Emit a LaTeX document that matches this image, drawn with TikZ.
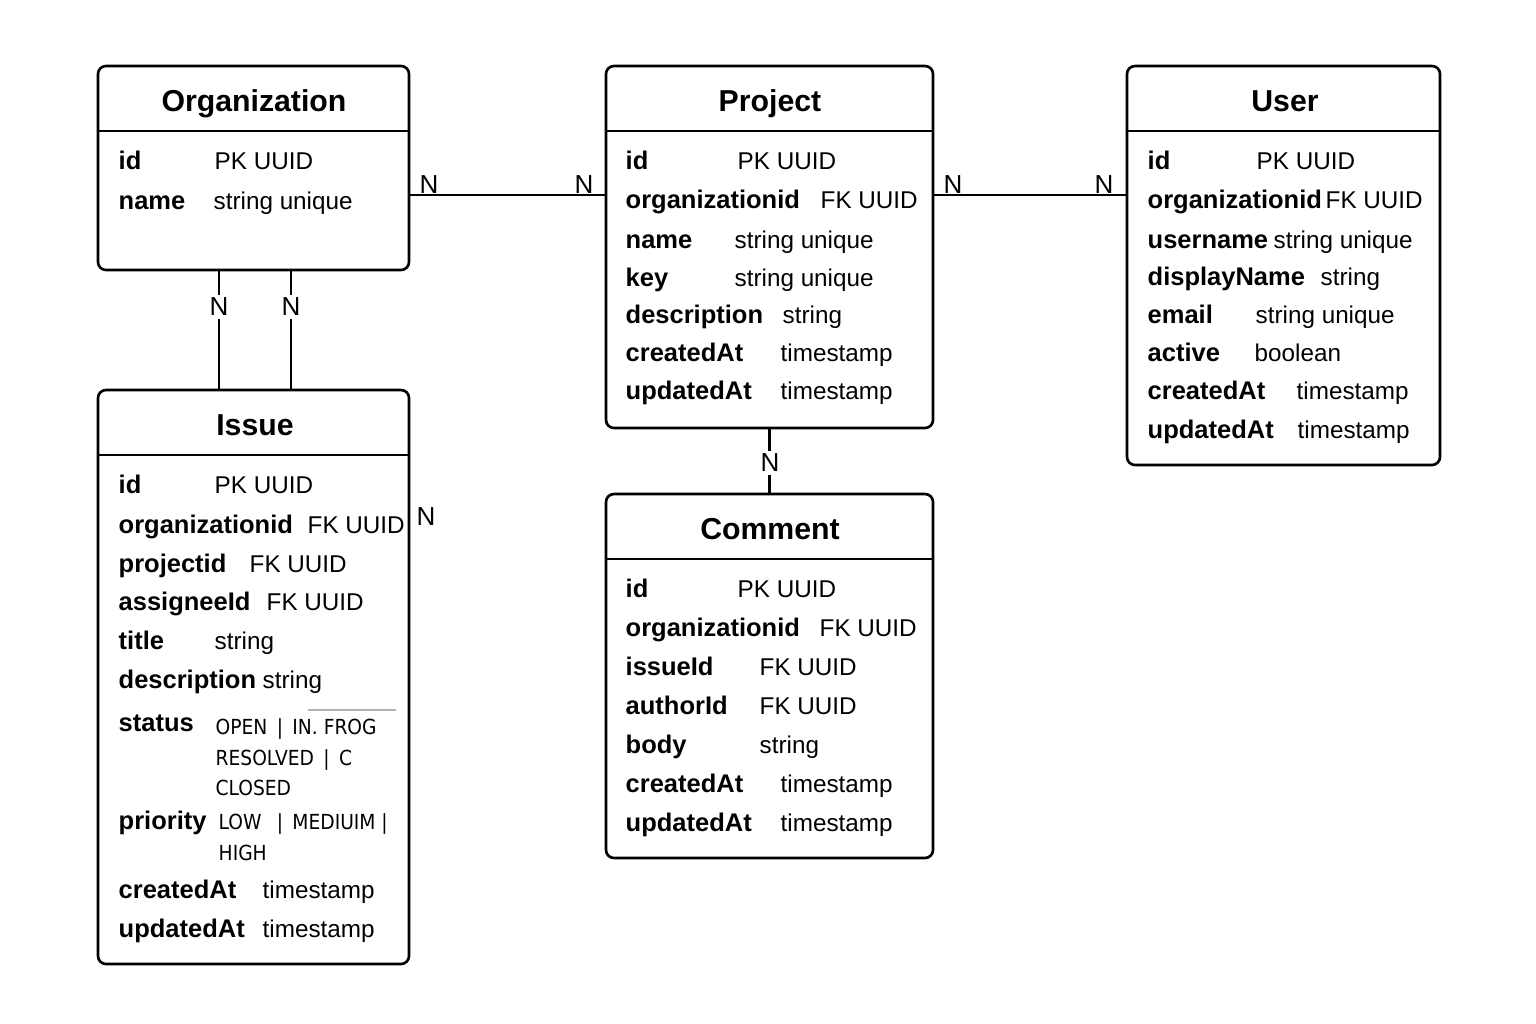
\documentclass[tikz,border=0pt]{standalone}
\usepackage{fontspec}
\setmainfont{Liberation Sans}
\newfontfamily\condfont{DejaVu Sans Condensed}
\usetikzlibrary{fit}

\tikzset{
  entity/.style={draw, line width=0.75pt, rounded corners=0.08cm, inner sep=0pt},
  title/.style={anchor=base, font=\fontsize{8.6}{10}\selectfont\bfseries},
  fname/.style={anchor=base west, inner sep=0pt, font=\fontsize{7.25}{9}\selectfont\bfseries},
  ftype/.style={anchor=base west, inner sep=0pt, font=\fontsize{6.9}{9}\selectfont},
  enumval/.style={anchor=base west, inner sep=0pt, font=\fontsize{5.9}{8}\selectfont\condfont},
  card/.style={font=\fontsize{7.4}{9}\selectfont, inner sep=1pt},
  rel/.style={line width=0.6pt}
}

\begin{document}
\begin{tikzpicture}[x=0.01cm, y=-0.01cm]
\useasboundingbox[fill=white] (0,0) rectangle (1536,1024);

% entities
\node[entity, fit={(98,66) (409,270)}] (org) {};
\node[entity, fit={(606,66) (933,428)}] (proj) {};
\node[entity, fit={(1127,66) (1440,465)}] (user) {};
\node[entity, fit={(98,390) (409,964)}] (issue) {};
\node[entity, fit={(606,494) (933,858)}] (comment) {};

% header lines
\draw[line width=0.75pt] (org.west |- 0,131) -- (org.east |- 0,131);
\draw[line width=0.75pt] (proj.west |- 0,131) -- (proj.east |- 0,131);
\draw[line width=0.75pt] (user.west |- 0,131) -- (user.east |- 0,131);
\draw[line width=0.75pt] (issue.west |- 0,455) -- (issue.east |- 0,455);
\draw[line width=0.75pt] (comment.west |- 0,559) -- (comment.east |- 0,559);

% titles
\node[title] (org-title) at (254,111) {Organization};
\node[title] (proj-title) at (770,111) {Project};
\node[title] (user-title) at (1285,111) {User};
\node[title] (issue-title) at (255,435) {Issue};
\node[title] (comment-title) at (770,539) {Comment};

% fields
\foreach \n/\y/\tx/\t in {id/161/214/PK UUID, name/201/213/string unique}{
  \node[fname] (org-\n) at (118,\y+8) {\n};
  \node[ftype] (org-\n-t) at (\tx,\y+8) {\t};
}
\foreach \n/\y/\tx/\t in {id/161/737/PK UUID, organizationid/200/820/FK UUID,
    name/240/734/string unique, key/278/734/string unique, description/315/782/string,
    createdAt/353/780/timestamp, updatedAt/391/780/timestamp}{
  \node[fname] (proj-\n) at (625,\y+8) {\n};
  \node[ftype] (proj-\n-t) at (\tx,\y+8) {\t};
}
\foreach \n/\y/\tx/\t in {id/161/1256/PK UUID, organizationid/200/1325/FK UUID,
    username/240/1273/string unique, displayName/277/1320/string, email/315/1255/string unique,
    active/353/1254/boolean, createdAt/391/1296/timestamp, updatedAt/430/1297/timestamp}{
  \node[fname] (user-\n) at (1147,\y+8) {\n};
  \node[ftype] (user-\n-t) at (\tx,\y+8) {\t};
}
\foreach \n/\y/\tx/\t in {id/485/214/PK UUID, organizationid/525/307/FK UUID,
    projectid/564/249/FK UUID, assigneeId/602/266/FK UUID, title/641/214/string,
    description/680/262/string, createdAt/890/262/timestamp, updatedAt/929/262/timestamp}{
  \node[fname] (issue-\n) at (118,\y+8) {\n};
  \node[ftype] (issue-\n-t) at (\tx,\y+8) {\t};
}
\node[fname] (issue-status) at (118,731) {status};
\node[fname] (issue-priority) at (118,829) {priority};
\node[enumval] (status-1) at (215,734) {OPEN \,|\, IN. FROG};
\node[enumval] (status-2) at (215,765) {RESOLVED \,|\, C};
\node[enumval] (status-3) at (215,795) {CLOSED};
\node[enumval] (prio-1) at (218,829) {LOW \ \,|\, MEDIUIM |};
\node[enumval] (prio-2) at (218,860) {HIGH};
\draw[gray!60, line width=0.4pt] (issue.east |- 0,710) ++(-102,0) -- ++(88,0);
\foreach \n/\y/\tx/\t in {id/589/737/PK UUID, organizationid/628/819/FK UUID,
    issueId/667/759/FK UUID, authorId/706/759/FK UUID, body/745/759/string,
    createdAt/784/780/timestamp, updatedAt/823/780/timestamp}{
  \node[fname] (comment-\n) at (625,\y+8) {\n};
  \node[ftype] (comment-\n-t) at (\tx,\y+8) {\t};
}

% relations
\draw[rel] (org.east |- 0,195) -- (proj.west |- 0,195);
\draw[rel] (proj.east |- 0,195) -- (user.west |- 0,195);
\draw[rel] (org.south -| 219,0) -- (issue.north -| 219,0);
\draw[rel] (org.south -| 291,0) -- (issue.north -| 291,0);
\draw[rel] (proj.south) -- (comment.north);

% cardinalities
\node[card] (op-n1) at (429,185) {N};
\node[card] (op-n2) at (584,185) {N};
\node[card] (pu-n1) at (953,185) {N};
\node[card] (pu-n2) at (1104,185) {N};
\node[card, fill=white] (oi-n1) at (219,307) {N};
\node[card, fill=white] (oi-n2) at (291,307) {N};
\node[card, fill=white] (pc-n) at (770,463) {N};
\node[card] (issue-n) at (426,517) {N};
\end{tikzpicture}
\end{document}
